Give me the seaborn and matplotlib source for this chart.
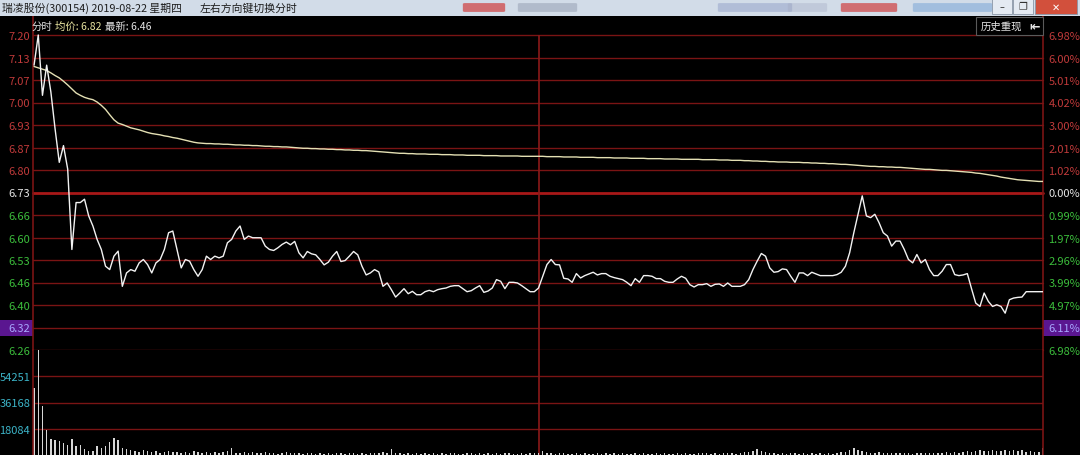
import matplotlib.pyplot as plt
import matplotlib.patches as mpatches
import matplotlib.transforms as mtransforms
import numpy as np
import seaborn as sns

# --- data (300154, 2019-08-22, 1-minute bars) ---
prev_close = 6.73
price_labels = [7.20, 7.13, 7.07, 7.00, 6.93, 6.87, 6.80, 6.73,
                6.66, 6.60, 6.53, 6.46, 6.40, 6.32, 6.26]
pct_labels = ["6.98%", "6.00%", "5.01%", "4.02%", "3.00%", "2.01%", "1.02%", "0.00%",
              "0.99%", "1.97%", "2.96%", "3.99%", "4.97%", "6.11%", "6.98%"]
highlight_label = 6.32
vol_ticks = [18084, 36168, 54251]
vol_top = 72336

price = [
    7.11, 7.20, 7.02, 7.11, 7.03, 6.92, 6.82, 6.87, 6.80, 6.56,
    6.70, 6.70, 6.71, 6.66, 6.63, 6.59, 6.56, 6.51, 6.50, 6.54,
    6.555, 6.45, 6.49, 6.50, 6.495, 6.52, 6.53, 6.515, 6.49, 6.52,
    6.53, 6.56, 6.61, 6.615, 6.56, 6.505, 6.53, 6.525, 6.50, 6.48,
    6.50, 6.54, 6.53, 6.54, 6.535, 6.54, 6.58, 6.59, 6.615, 6.63,
    6.59, 6.60, 6.595, 6.595, 6.595, 6.57, 6.56, 6.557, 6.565, 6.575,
    6.582, 6.574, 6.584, 6.55, 6.535, 6.554, 6.547, 6.544, 6.53, 6.514,
    6.522, 6.54, 6.554, 6.524, 6.527, 6.54, 6.554, 6.544, 6.51, 6.484,
    6.49, 6.50, 6.493, 6.45, 6.46, 6.44, 6.418, 6.43, 6.443, 6.428,
    6.435, 6.425, 6.425, 6.434, 6.438, 6.434, 6.44, 6.443, 6.445, 6.45,
    6.452, 6.452, 6.443, 6.434, 6.437, 6.445, 6.452, 6.432, 6.436, 6.445,
    6.47, 6.465, 6.443, 6.462, 6.462, 6.46, 6.452, 6.443, 6.434, 6.434,
    6.445, 6.48, 6.515, 6.53, 6.515, 6.514, 6.474, 6.472, 6.462, 6.488,
    6.475, 6.482, 6.487, 6.492, 6.484, 6.488, 6.488, 6.48, 6.476, 6.473,
    6.47, 6.462, 6.452, 6.473, 6.462, 6.482, 6.482, 6.48, 6.473, 6.473,
    6.465, 6.462, 6.462, 6.472, 6.48, 6.474, 6.455, 6.448, 6.455, 6.455,
    6.458, 6.45, 6.456, 6.457, 6.45, 6.46, 6.45, 6.45, 6.45, 6.455,
    6.47, 6.50, 6.525, 6.548, 6.54, 6.505, 6.492, 6.494, 6.502, 6.50,
    6.48, 6.462, 6.49, 6.49, 6.482, 6.492, 6.487, 6.482, 6.482, 6.482,
    6.482, 6.485, 6.492, 6.51, 6.55, 6.61, 6.665, 6.72, 6.66, 6.655,
    6.665, 6.64, 6.61, 6.60, 6.57, 6.585, 6.585, 6.56, 6.53, 6.52,
    6.545, 6.52, 6.53, 6.50, 6.482, 6.482, 6.495, 6.515, 6.515, 6.485,
    6.482, 6.484, 6.488, 6.443, 6.40, 6.39, 6.43, 6.405, 6.39, 6.395,
    6.39, 6.37, 6.41, 6.415, 6.417, 6.418, 6.434, 6.434, 6.434, 6.434, 6.434,
]

avg_price = [
    7.106, 7.102, 7.098, 7.094, 7.087, 7.079, 7.072, 7.062, 7.051, 7.039, 7.027,
    7.020, 7.014, 7.010, 7.007, 7.000, 6.990, 6.978, 6.962, 6.947, 6.937,
    6.933, 6.928, 6.923, 6.920, 6.917, 6.913, 6.909, 6.906, 6.904, 6.902,
    6.899, 6.897, 6.894, 6.892, 6.889, 6.886, 6.883, 6.880, 6.878, 6.877,
    6.876, 6.876, 6.875, 6.875, 6.874, 6.874, 6.873, 6.872, 6.872, 6.871,
    6.871, 6.870, 6.870, 6.869, 6.868, 6.868, 6.867, 6.867, 6.866, 6.866,
    6.865, 6.864, 6.863, 6.862, 6.862, 6.861, 6.861, 6.860, 6.860, 6.859,
    6.859, 6.858, 6.858, 6.857, 6.857, 6.856, 6.856, 6.855, 6.855, 6.854,
    6.853, 6.852, 6.851, 6.850, 6.849, 6.848, 6.847, 6.847, 6.846, 6.846,
    6.845, 6.845, 6.845, 6.844, 6.844, 6.844, 6.843, 6.843, 6.843, 6.842,
    6.842, 6.842, 6.841, 6.841, 6.841, 6.841, 6.840, 6.840, 6.840, 6.840,
    6.839, 6.839, 6.839, 6.839, 6.839, 6.838, 6.838, 6.838, 6.838, 6.838,
    6.838, 6.837, 6.837, 6.837, 6.837, 6.836, 6.836, 6.836, 6.836, 6.835,
    6.835, 6.835, 6.835, 6.834, 6.834, 6.834, 6.834, 6.833, 6.833, 6.833,
    6.833, 6.832, 6.832, 6.832, 6.832, 6.831, 6.831, 6.831, 6.831, 6.830,
    6.830, 6.830, 6.830, 6.829, 6.829, 6.829, 6.829, 6.829, 6.828, 6.828,
    6.828, 6.828, 6.827, 6.827, 6.827, 6.826, 6.826, 6.826, 6.825, 6.825,
    6.824, 6.824, 6.823, 6.823, 6.822, 6.822, 6.821, 6.821, 6.821, 6.820,
    6.820, 6.820, 6.819, 6.819, 6.818, 6.818, 6.817, 6.817, 6.816, 6.816,
    6.815, 6.814, 6.814, 6.813, 6.812, 6.811, 6.810, 6.809, 6.808, 6.808,
    6.807, 6.807, 6.806, 6.806, 6.805, 6.805, 6.804, 6.803, 6.802, 6.801,
    6.800, 6.799, 6.799, 6.798, 6.797, 6.796, 6.796, 6.795, 6.794, 6.793,
    6.792, 6.791, 6.790, 6.788, 6.787, 6.785, 6.783, 6.781, 6.779, 6.776,
    6.774, 6.772, 6.770, 6.768, 6.767, 6.766, 6.765, 6.764, 6.763, 6.763,
]

volume = [
    46400, 72000, 34100, 17400, 11100, 10400, 9900, 8100, 7000, 11100,
    6300, 7000, 4000, 3000, 2800, 6300, 4600, 6300, 9300, 11600, 10400, 4600, 4000,
    3500, 2800, 2300, 3200, 2600, 1800, 2500, 1400, 2200, 2900,
    1900, 2400, 1600, 2100, 1300, 3000, 2200, 1700, 2000, 1500,
    2300, 1200, 1800, 2600, 4600, 1400, 1600, 2000, 1300, 1900,
    1100, 1500, 2200, 1200, 1600, 1000, 1400, 1800, 1200, 1500,
    1200, 900, 1500, 1100, 800, 1300, 1000, 1600, 900, 1200,
    1400, 800, 1100, 1700, 900, 1300, 1000, 1200, 1500, 1100,
    2000, 1300, 4200, 1600, 1200, 900, 1400, 1000, 1100, 800,
    1300, 900, 1200, 1000, 1500, 800, 1100, 1300, 900, 1000,
    1400, 1200, 800, 1100, 900, 1600, 1000, 1200, 900, 1300,
    1100, 800, 1000, 1200, 900, 1500, 1100, 1700,
    2800, 1200, 1500, 900, 1100, 1300, 800, 1000, 1200, 900,
    1400, 1000, 800, 1100, 900, 1300, 1000, 1200, 800, 1100,
    900, 1000, 1400, 800, 1200, 900, 1000, 1100, 800, 1300,
    900, 1000, 1200, 800, 1100, 900, 1000, 1300, 1500, 1100,
    900, 1200, 1000, 1400, 1100, 1300, 1000, 1500, 1800, 2300,
    2800, 4000, 2800, 2300, 1500,
    1200, 1000, 1300, 900, 1500, 1100, 1000, 1200, 900, 1100,
    1000, 1300, 900, 1200, 1000, 1500, 1800,
    2300, 3200, 5000, 3700, 2800, 2300,
    1600, 1400, 1800, 1200, 1500, 1300, 1100, 1600, 1200, 1400,
    1000, 1300, 1500, 1100, 1200, 1600, 1300, 1500, 1800, 1400, 2000, 1700,
    2300, 2600, 2000, 2800, 3200, 2500, 3000, 3400, 2700, 3100,
    3700, 2900, 3300, 2600, 3500, 2400, 2800, 2200, 1900, 4600,
]

minutes = np.arange(len(price))
assert len(avg_price) == len(price) == len(volume) == 241

# --- style ---
sns.set_style("dark")
plt.rcParams['font.family'] = ['Noto Sans CJK SC', 'DejaVu Sans']

RED = "#c03a3a"
GREEN = "#3cbe3c"
WHITE = "#e6e6e6"
CYAN = "#3cb4c8"
GRID = "#7a1414"
PURPLE = "#5a1690"

W, H = 1080, 456
x0, x1 = 33, 1043
y_top, y_mid = 17, 351

fig = plt.figure(figsize=(10.8, 4.56), dpi=100, facecolor="black")
ax = fig.add_axes([x0 / W, (H - y_mid) / H, (x1 - x0) / W, (y_mid - y_top) / H])
axv = fig.add_axes([x0 / W, 0, (x1 - x0) / W, (H - y_mid) / H])
for a in (ax, axv):
    a.set_facecolor("black")
    a.grid(False)
    for s in ("top", "bottom"):
        a.spines[s].set_visible(False)
    for s in ("left", "right"):
        a.spines[s].set_color(GRID)
        a.spines[s].set_linewidth(1.2)

# price grid positions are evenly spaced between the top and bottom label
level_pos = np.linspace(price_labels[0], price_labels[-1], len(price_labels))
span = price_labels[0] - price_labels[-1]
ax.set_ylim(price_labels[-1], price_labels[0] + span * 19 / 315)
ax.set_xlim(-0.25, 240)

for lv, lab in zip(level_pos, price_labels):
    if lab == prev_close:
        ax.axhline(lv, color="#a81818", lw=2.0, zorder=1, clip_on=False)
    else:
        ax.axhline(lv, color=GRID, lw=1.0, zorder=1, clip_on=False)
ax.vlines(120, price_labels[-1], price_labels[0], color="#8c1a1a", lw=1.2, zorder=1)

sns.lineplot(x=minutes, y=avg_price, ax=ax, color="#e4e0b4", lw=1.0, zorder=3)
sns.lineplot(x=minutes, y=price, ax=ax, color="#f2f2f2", lw=1.0, zorder=4)

def label_color(val):
    if val == highlight_label:
        return "#a8a8ff"
    if val > prev_close:
        return RED
    if val < prev_close:
        return GREEN
    return WHITE

ax.set_yticks(level_pos)
ax.set_yticklabels([f"{v:.2f}" for v in price_labels])
ax.tick_params(axis="y", length=0, pad=2, labelsize=8)
ax.set_xticks([])
ax.set_xlabel("")
ax.set_ylabel("")
for t, v in zip(ax.get_yticklabels(), price_labels):
    t.set_color(label_color(v))

axr = ax.twinx()
axr.set_ylim(ax.get_ylim())
axr.set_yticks(level_pos)
axr.set_yticklabels(pct_labels)
axr.tick_params(axis="y", length=0, pad=4, labelsize=8)
axr.grid(False)
for s in axr.spines.values():
    s.set_visible(False)
for t, v in zip(axr.get_yticklabels(), price_labels):
    t.set_color(label_color(v))

# purple highlight band behind the 6.32 row
hl = level_pos[price_labels.index(highlight_label)]
band_h = span / 315 * 16
trans = mtransforms.blended_transform_factory(fig.transFigure, ax.transData)
for bx, bw in ((0, x0 / W), (x1 / W, 1 - x1 / W)):
    fig.add_artist(mpatches.Rectangle((bx, hl - band_h / 2), bw, band_h,
                                      transform=trans, facecolor=PURPLE,
                                      edgecolor="none", zorder=-1))

# volume panel
sns.barplot(x=minutes, y=volume, ax=axv, native_scale=True, color="#d6d6d6",
            saturation=1, width=0.35, errorbar=None, linewidth=0)
axv.set_xlim(-0.25, 240)
axv.set_ylim(0, vol_top)
for v in vol_ticks:
    axv.axhline(v, color=GRID, lw=1.0, zorder=0)
axv.axvline(120, color="#8c1a1a", lw=1.2, zorder=0)
axv.set_yticks(vol_ticks)
axv.set_yticklabels([str(v) for v in vol_ticks])
axv.tick_params(axis="y", length=0, pad=2, labelsize=8, colors=CYAN)
axv.set_xticks([])
axv.set_xlabel("")
axv.set_ylabel("")

# header line above the price panel
fs = 7.5
fig.text(32 / W, 1 - 27 / H, "分时", color=WHITE, fontsize=fs, va="center")
fig.text(55 / W, 1 - 27 / H, "均价: 6.82", color="#e8e4a0", fontsize=fs, va="center")
fig.text(105 / W, 1 - 27 / H, "最新: 6.46", color=WHITE, fontsize=fs, va="center")

# "历史重现" button
fig.add_artist(mpatches.Rectangle((976 / W, 1 - 36 / H), 67 / W, 18 / H,
                                  transform=fig.transFigure, facecolor="black",
                                  edgecolor="#5a5a5a", lw=0.8))
fig.text(981 / W, 1 - 27 / H, "历史重现", color=WHITE, fontsize=fs, va="center")
fig.text(1029 / W, 1 - 27 / H, "⇤", color=WHITE, fontsize=9, va="center",
         fontweight="bold", family=["DejaVu Sans"])

# window title bar
fig.add_artist(mpatches.Rectangle((0, 1 - y_top / H), 1, y_top / H,
                                  transform=fig.transFigure, facecolor="#d2dce8",
                                  edgecolor="none"))
fig.text(2 / W, 1 - 8.5 / H, "瑞凌股份(300154) 2019-08-22 星期四", color="#1e1e1e",
         fontsize=7.8, va="center")
fig.text(200 / W, 1 - 8.5 / H, "左右方向键切换分时", color="#1e1e1e",
         fontsize=7.8, va="center")
# blurred banner items in the title bar
for bx, bw, fc, al in ((465, 38, "#d04848", 0.75), (520, 55, "#8a94a8", 0.45),
                       (720, 70, "#8a98c4", 0.45), (790, 35, "#a0a8c0", 0.35),
                       (843, 52, "#d04040", 0.7), (915, 75, "#8eb2da", 0.7)):
    fig.add_artist(mpatches.FancyBboxPatch((bx / W, 1 - 12 / H), bw / W, 7 / H,
                                           boxstyle="round,pad=0.002",
                                           transform=fig.transFigure, facecolor=fc,
                                           edgecolor="none", alpha=al))
for bx, bw, fc, sym, sc in ((992, 20, "#e4eaf2", "–", "#333333"),
                            (1013, 20, "#e4eaf2", "❐", "#333333"),
                            (1035, 42, "#d2503c", "✕", "white")):
    fig.add_artist(mpatches.Rectangle((bx / W, 1 - 15 / H), bw / W, 15 / H,
                                      transform=fig.transFigure, facecolor=fc,
                                      edgecolor="#8a96a6", lw=0.6))
    fig.text((bx + bw / 2) / W, 1 - 7.5 / H, sym, color=sc, fontsize=7,
             ha="center", va="center", family=["DejaVu Sans"])

fig.savefig("out.png", dpi=100, facecolor="black")
